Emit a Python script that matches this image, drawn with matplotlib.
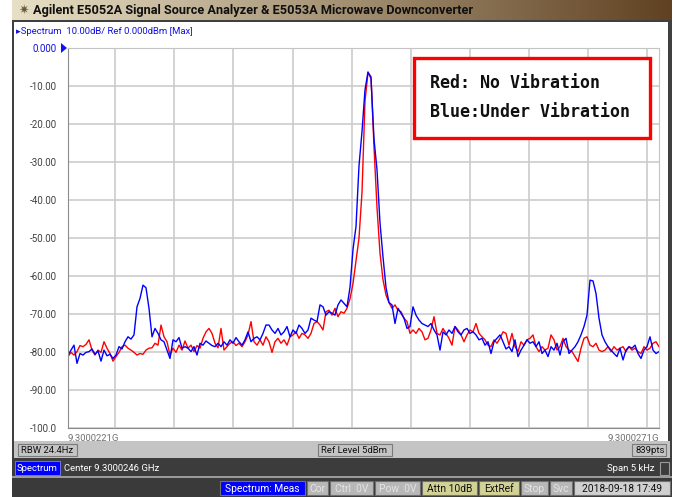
import numpy as np
import matplotlib.pyplot as plt
from matplotlib.patches import Rectangle, Polygon

plt.rcParams['font.family'] = ['Roboto', 'DejaVu Sans']

# traces in dBm, one reading every 3 screen px over the 5 kHz span
blue_db = [-80.8, -79.5, -78.2, -83.0, -80.4, -80.8, -80.1, -79.9, -79.2, -80.6,
           -79.7, -82.4, -79.5, -81.0, -80.6, -81.7, -80.8, -78.6, -79.2, -77.3,
           -76.0, -76.6, -75.5, -68.1, -65.9, -62.4, -63.1, -68.5, -76.0, -73.8,
           -75.1, -76.8, -77.3, -79.5, -81.7, -76.8, -77.3, -76.2, -79.0, -78.6,
           -79.0, -79.9, -78.6, -80.8, -77.7, -78.2, -77.1, -77.7, -78.3,
           -78.6, -77.7, -78.6, -77.3, -78.2, -76.8, -77.7, -76.2, -77.3, -78.2,
           -76.8, -74.7, -77.3, -76.4, -76.0, -76.8, -75.1, -72.9, -72.9, -74.2,
           -75.1, -73.8, -75.5, -74.7, -73.3, -76.0, -74.2, -75.1, -72.9, -73.8,
           -75.1, -74.2, -71.1, -71.6, -72.0, -67.6, -68.1, -70.3, -69.4, -69.8,
           -70.3, -67.6, -66.3, -67.2, -68.1,
           -63.0, -53.0, -47.0, -31.0, -22.0, -11.0, -6.3, -8.0, -24.0, -32.0,
           -46.0, -55.0, -63.0, -67.0,
           -67.6, -72.5, -68.5, -69.8, -71.1, -73.8, -73.3, -68.1, -70.3, -71.6,
           -72.5, -72.9, -73.3, -72.5, -74.2, -75.5, -79.5, -74.7, -75.5, -74.2,
           -75.1, -73.3, -74.7, -75.5, -74.2, -73.8, -75.1, -74.7, -75.5, -76.8,
           -76.4, -78.2, -77.3, -80.4, -77.3, -76.4, -75.5, -77.3, -79.2, -78.6,
           -79.9, -76.8, -81.2, -79.5, -78.2, -76.8, -77.7, -77.3, -78.6, -77.3,
           -80.4, -79.5, -81.2, -78.6, -79.5, -77.7, -80.8, -77.3, -76.4, -80.4,
           -79.5, -78.6, -77.3, -75.5, -73.3, -70.3, -61.1, -61.3, -64.6, -71.1,
           -75.5, -77.3, -78.6, -79.5, -80.4, -81.2, -79.0, -82.1, -79.5, -78.6,
           -79.0, -78.2, -80.4, -81.7, -79.5, -78.6, -76.0, -79.5, -80.4, -79.9]

red_db = [-81.2, -80.1, -80.8, -79.9, -78.3, -78.6, -78.0, -76.8, -79.5, -80.8,
          -79.5, -80.1, -77.3, -79.0, -80.4, -82.4, -81.2, -80.1, -78.6, -78.2,
          -79.0, -79.5, -80.1, -80.8, -80.4, -80.6, -79.5, -79.0, -78.9, -77.7,
          -78.2, -72.9, -76.0, -77.3, -80.8, -79.0, -80.1, -78.2, -79.5, -77.1,
          -79.0, -78.2, -79.9, -78.3, -79.0, -76.4, -74.7, -73.8, -75.1,
          -77.7, -78.9, -73.8, -79.5, -78.6, -77.7, -77.3, -78.3, -77.7, -78.6,
          -77.3, -75.5, -72.0, -77.3, -78.2, -76.8, -78.2, -76.0, -77.3, -80.1,
          -77.3, -76.4, -77.7, -76.8, -78.2, -76.0, -75.5, -74.7, -76.4, -75.1,
          -75.5, -76.4, -75.1, -72.5, -72.0, -72.9, -74.2, -69.4, -69.0, -70.3,
          -68.5, -70.7, -69.4, -69.8, -68.5,
          -66.0, -62.0, -56.0, -50.0, -38.0, -14.0, -6.5, -7.5, -26.0, -42.0,
          -54.0, -61.0, -65.0, -67.0,
          -68.5, -67.6, -69.0, -69.4, -71.1, -72.0, -75.1, -74.2, -75.1, -73.8,
          -74.7, -76.8, -76.4, -74.2, -70.7, -75.1, -75.5, -73.8, -75.1, -76.4,
          -78.2, -73.3, -74.2, -75.5, -77.3, -75.5, -74.2, -74.7, -72.5, -75.1,
          -76.0, -76.8, -78.2, -78.6, -76.8, -77.7, -76.4, -74.7, -75.1, -78.2,
          -75.1, -78.6, -79.9, -77.3, -78.2, -76.8, -76.4, -75.5, -78.6, -79.9,
          -78.6, -79.5, -79.0, -75.5, -76.8, -79.5, -78.6, -76.4, -78.6, -79.5,
          -79.9, -81.2, -82.5, -79.0, -76.4, -76.0, -78.2, -78.6, -77.7, -79.5,
          -79.9, -79.5, -78.6, -79.9, -78.6, -79.5, -79.0, -78.6, -79.9, -78.6,
          -79.5, -79.0, -79.9, -80.4, -78.6, -79.5, -79.0, -77.7, -77.3, -78.6]

# frequency axis in kHz above 9.3 GHz
start_khz = 22.1
stop_khz = 27.1
grid_khz = [22.5, 23.0, 23.5, 24.0, 24.5, 25.0, 25.5, 26.0, 26.5, 27.0]
y_ticks = [0, -10, -20, -30, -40, -50, -60, -70, -80, -90, -100]
y_labels = ['0.000', '-10.00', '-20.00', '-30.00', '-40.00', '-50.00',
            '-60.00', '-70.00', '-80.00', '-90.00', '-100.0']

freq = np.linspace(start_khz, stop_khz, len(blue_db))

W, H = 681, 497
fig = plt.figure(figsize=(W / 100, H / 100), dpi=100)
fig.patch.set_facecolor('white')

# screen furniture, drawn in pixel coords
bg = fig.add_axes([0, 0, 1, 1])
bg.set_xlim(0, W)
bg.set_ylim(H, 0)
bg.axis('off')

grad = np.linspace(0, 1, 256)
c0 = np.array([232, 224, 198]) / 255
c1 = np.array([96, 66, 34]) / 255
bar = c0[None, :] * (1 - grad[:, None]) + c1[None, :] * grad[:, None]
bg.imshow(bar[None, :, :], extent=(12, 672, 20, 0), aspect='auto', zorder=1)
bg.text(18, 10.5, '\u2737', color='#6a5a3a', fontsize=9, va='center', zorder=2,
        family=['DejaVu Sans'])
bg.text(33, 10.5, 'Agilent E5052A Signal Source Analyzer & E5053A Microwave Downconverter',
        fontsize=9.2, fontweight='bold', color='#101010', va='center', zorder=2)

bg.add_patch(Rectangle((12, 20), 660, 458, facecolor='#404040', edgecolor='none', zorder=1))
bg.add_patch(Rectangle((14, 22), 654, 419, facecolor='white', edgecolor='none', zorder=1))
bg.text(16, 31, '\u25b8Spectrum  10.00dB/ Ref 0.000dBm [Max]', color='#1010e0',
        fontsize=6.8, va='center', zorder=2)
bg.add_patch(Polygon([(61, 43), (61, 53), (67, 48)], closed=True, facecolor='#1010ff',
                     edgecolor='none', zorder=3))

# gray info bar
bg.add_patch(Rectangle((14, 441), 656, 17, facecolor='#c4c4c4', edgecolor='none', zorder=1))
for x0, x1, txt in [(18, 77, 'RBW 24.4Hz'), (318, 392, 'Ref Level 5dBm'), (632, 666, '839pts')]:
    bg.add_patch(Rectangle((x0, 444), x1 - x0, 12, facecolor='#c4c4c4', edgecolor='#7a7a7a',
                           lw=0.8, zorder=2))
    bg.text(x0 + 3, 450.5, txt, fontsize=6.8, color='#101010', va='center', zorder=3)

# dark channel bar
bg.add_patch(Rectangle((12, 458), 660, 18, facecolor='#3c3c3c', edgecolor='none', zorder=1))
bg.add_patch(Rectangle((15, 461), 45, 14, facecolor='#0000ff', edgecolor='#8080ff', lw=0.6, zorder=2))
bg.text(17, 468.5, 'Spectrum', fontsize=6.8, color='white', va='center', zorder=3)
bg.text(64, 468.5, 'Center 9.3000246 GHz', fontsize=6.8, color='white', va='center', zorder=3)
bg.text(655, 468.5, 'Span 5 kHz', fontsize=6.8, color='white', va='center', ha='right', zorder=3)
bg.add_patch(Rectangle((660, 462), 9, 13, facecolor='#3c3c3c', edgecolor='#9a9a9a', lw=0.8, zorder=2))
bg.add_patch(Rectangle((12, 476), 660, 2, facecolor='#9a9a9a', edgecolor='none', zorder=1))

# status bar
bg.add_patch(Rectangle((12, 478), 660, 19, facecolor='#3a3a3a', edgecolor='none', zorder=1))
status = [(220, 305, 'Spectrum: Meas', '#0000ff', 'white'),
          (307, 328, 'Cor', '#b8b8b8', '#e4e4e4'),
          (330, 373, 'Ctrl  0V', '#b8b8b8', '#e4e4e4'),
          (375, 420, 'Pow  0V', '#b8b8b8', '#e4e4e4'),
          (422, 477, 'Attn 10dB', '#d2d296', '#101010'),
          (479, 519, 'ExtRef', '#d2d296', '#101010'),
          (521, 548, 'Stop', '#b8b8b8', '#e4e4e4'),
          (550, 572, 'Svc', '#b8b8b8', '#e4e4e4'),
          (574, 670, '2018-09-18 17:49', '#d0d0d0', '#101010')]
for x0, x1, txt, fc, tc in status:
    bg.add_patch(Rectangle((x0, 481), x1 - x0, 14, facecolor=fc, edgecolor='#707070',
                           lw=0.8, zorder=2))
    bg.text((x0 + x1) / 2, 488.5, txt, fontsize=7.4, color=tc, va='center', ha='center', zorder=3)

# spectrum plot
ax = fig.add_axes([68 / W, (H - 428) / H, 591 / W, 380 / H], zorder=5)
ax.set_facecolor('none')
ax.plot(freq, red_db, color='#ff0000', lw=1.0)
ax.plot(freq, blue_db, color='#0000ff', lw=1.0)
ax.set_xlim(start_khz, stop_khz)
ax.set_ylim(-100, 0)
ax.set_xticks(grid_khz)
ax.set_xticklabels([])
ax.set_yticks(y_ticks)
ax.set_yticklabels(y_labels, fontsize=7, color='#404040')
ax.get_yticklabels()[0].set_color('#1010e0')
ax.tick_params(length=0, pad=8)
ax.grid(True, color='#cccccc', lw=1.2)
ax.set_axisbelow(True)
for side in ['top', 'right']:
    ax.spines[side].set_color('#c4c4c4')
for side in ['left', 'bottom']:
    ax.spines[side].set_color('#8c8c8c')

ax.text(0, -0.016, '9.3000221G', transform=ax.transAxes, fontsize=6.8, color='#707070',
        ha='left', va='top')
ax.text(1, -0.016, '9.3000271G', transform=ax.transAxes, fontsize=6.8, color='#707070',
        ha='right', va='top')

# annotation box on top of the plot
leg = fig.add_axes([0, 0, 1, 1], zorder=10)
leg.set_xlim(0, W)
leg.set_ylim(H, 0)
leg.axis('off')
leg.add_patch(Rectangle((414, 58), 236, 80, facecolor='white', edgecolor='#ff0000', lw=2.4))
leg.text(430, 83, 'Red: No Vibration', fontsize=12, fontweight='bold',
         family=['DejaVu Sans Mono'], va='center', color='#101010')
leg.text(430, 112, 'Blue:Under Vibration', fontsize=12, fontweight='bold',
         family=['DejaVu Sans Mono'], va='center', color='#101010')

plt.savefig('out.png', dpi=100)
